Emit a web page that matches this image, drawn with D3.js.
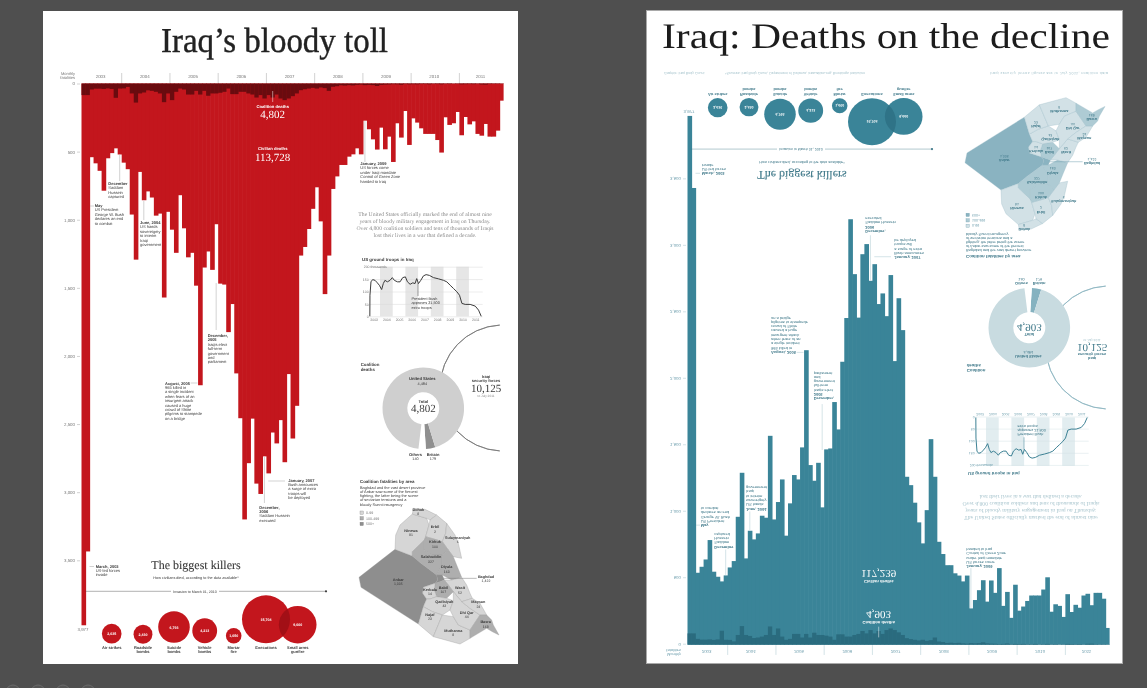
<!DOCTYPE html>
<html lang="en">
<head>
  <meta charset="UTF-8">
  <script src="https://d3js.org/d3.v7.min.js"></script>
  <style>
    html, body { margin: 0; padding: 0; background: #4f4f4f; overflow: hidden; }
    svg { display: block; filter: blur(0.35px); }
    text { font-family: "Liberation Sans", Arial, sans-serif; text-rendering: geometricPrecision; }
    .serif { font-family: "Liberation Serif", serif; }
  </style>
</head>
<body>
  <script>
    // monthly deaths, March 2003 to November 2011
    const civilian = [3977, 3435, 541, 586, 641, 787, 549, 511, 476, 521, 581, 629, 962, 1293, 649, 857, 792, 837,
      970, 955, 1571, 942, 1073, 1243, 820, 1063, 1276, 1243, 1484, 2215, 1351, 1233, 1368, 1033, 1469, 1476, 1825,
      1619, 2128, 2457, 3200, 2787, 2460, 2937, 3013, 2737, 2862, 2562, 2642, 2471, 2780, 2133, 2606, 2366, 1263,
      1200, 1068, 920, 762, 1012, 1546, 1263, 774, 682, 598, 598, 537, 520, 476, 520, 273, 336, 410, 485, 324, 483,
      390, 576, 292, 397, 202, 451, 256, 287, 329, 370, 370, 370, 415, 507, 248, 304, 292, 209, 380, 246, 300, 278,
      370, 383, 297, 390, 390, 346, 126];
    const coalition = [85, 85, 44, 38, 38, 40, 36, 40, 105, 37, 36, 25, 73, 140, 73, 66, 50, 54, 61, 73, 137, 73, 122,
      61, 37, 44, 81, 81, 54, 81, 54, 90, 73, 73, 68, 61, 37, 78, 78, 61, 61, 73, 81, 103, 85, 110, 85, 103, 81, 110,
      122, 110, 93, 73, 49, 42, 37, 32, 37, 29, 34, 54, 24, 20, 13, 15, 12, 14, 10, 8, 12, 10, 12, 18, 10, 8, 7, 5, 6,
      9, 4, 6, 5, 6, 4, 4, 6, 3, 4, 6, 3, 4, 2, 3, 6, 5, 4, 5, 3, 7, 8, 4, 3, 3, 2];
    const years = [2003, 2004, 2005, 2006, 2007, 2008, 2009, 2010, 2011];
    const yTicks = [0, 500, 1000, 1500, 2000, 2500, 3000, 3500];

    const killerNames = [["Air strikes"], ["Roadside", "bombs"], ["Suicide", "bombs"], ["Vehicle", "bombs"], ["Mortar", "fire"], ["Executions"], ["Small arms", "gunfire"]];
    const killerValues = [2635, 2430, 6793, 4213, 1650, 15704, 9660];

    const donutNames = ["Britain", "Others", "United States"];
    const donutValues = [179, 139, 4484];

    const troopYears = [2003.2, 2003.21, 2003.29, 2003.42, 2003.61, 2003.79, 2003.95, 2004.13, 2004.26, 2004.39, 2004.58, 2004.79,
      2004.97, 2005.13, 2005.37, 2005.58, 2005.79, 2006, 2006.16, 2006.37, 2006.58, 2006.76, 2006.89, 2007.03, 2007.21, 2007.42,
      2007.63, 2007.89, 2008.21, 2008.61, 2009, 2009.26, 2009.53, 2009.79, 2010.05, 2010.26, 2010.45, 2010.71, 2011.1, 2011.5, 2011.76, 2011.97];
    const troopValues = [0, 85, 139, 148, 145, 135, 125, 108, 132, 145, 139, 145, 156, 145, 139, 139, 156, 159, 139, 129, 135, 132,
      152, 132, 145, 163, 168, 165, 156, 151, 145, 139, 125, 112, 99, 85, 52, 48, 48, 41, 25, 0];
    const troopTicks = [0, 50, 100, 150, 200];

    const provinceNames = ["Anbar", "Ninewa", "Dohuk", "Erbil", "Sulaymaniyah", "Kirkuk", "Salahuddin", "Diyala", "Baghdad", "Wasit", "Babil", "Kerbala", "Qadisiyah", "Najaf", "Muthanna", "Dhi Qar", "Maysan", "Basra"];
    const provinceDeaths = [1335, 91, 8, 2, 6, 100, 327, 163, 1422, 52, 107, 14, 43, 23, 8, 44, 24, 168];
    // outlines in map units
    const provinceShapes = [
      [[12, 232], [120, 148], [172, 168], [198, 190], [245, 225], [248, 240], [240, 250], [205, 262], [203, 280], [215, 297], [205, 320], [190, 372], [18, 262]],
      [[120, 148], [122, 105], [135, 75], [172, 42], [215, 55], [222, 75], [212, 110], [208, 120], [172, 155], [172, 168]],
      [[172, 42], [175, 25], [210, 28], [245, 45], [225, 60], [215, 55]],
      [[245, 45], [275, 70], [272, 100], [262, 125], [240, 118], [212, 110], [222, 75], [225, 60]],
      [[275, 70], [300, 105], [310, 130], [320, 175], [295, 170], [280, 150], [262, 125], [272, 100]],
      [[212, 110], [240, 118], [262, 125], [280, 150], [262, 165], [230, 165], [208, 150], [208, 120]],
      [[172, 155], [208, 120], [208, 150], [230, 165], [262, 165], [262, 195], [250, 215], [245, 225], [198, 190], [172, 168]],
      [[262, 165], [280, 150], [295, 170], [305, 195], [320, 232], [290, 240], [262, 225], [245, 225], [250, 215], [262, 195]],
      [[245, 225], [262, 225], [268, 240], [255, 245], [240, 250], [248, 240]],
      [[268, 240], [290, 240], [320, 232], [335, 255], [345, 280], [352, 295], [320, 305], [295, 275], [280, 255]],
      [[240, 250], [255, 245], [268, 240], [280, 255], [295, 275], [275, 295], [245, 290], [238, 270]],
      [[205, 262], [240, 250], [238, 270], [245, 290], [225, 297], [215, 297], [203, 280]],
      [[215, 297], [225, 297], [245, 290], [275, 295], [295, 302], [285, 330], [262, 345], [232, 335], [205, 320]],
      [[205, 320], [232, 335], [262, 345], [235, 410], [190, 372]],
      [[262, 345], [295, 350], [310, 375], [345, 390], [345, 415], [315, 432], [235, 410]],
      [[295, 302], [295, 275], [320, 305], [345, 325], [375, 345], [345, 390], [310, 375], [295, 350], [285, 330]],
      [[352, 295], [375, 310], [395, 345], [375, 345], [345, 325], [320, 305]],
      [[375, 345], [395, 345], [410, 360], [415, 375], [432, 405], [412, 395], [395, 385], [345, 415], [345, 390]]
    ];
    const provinceLabelAt = [[130, 242], [168, 96], [190, 32], [240, 85], [308, 117], [240, 130], [228, 175], [275, 205], [393, 233], [315, 268], [265, 267], [225, 272], [268, 308], [225, 347], [295, 395], [335, 342], [370, 310], [392, 370]];

    const redPalette = {
      bar: "#c3161d", dark: "#6a0b0f", lens: "#a20f16", ink: "#3a3a3a", soft: "#777", muted: "#8c8c8c",
      leader: "#a5a5a5", tints: ["#d6d6d6", "#aeaeae", "#8e8e8e"], ring: "#cfcfcf", wedge: "#8f8f8f",
      grid: "#d9d9d9", band: "#e6e6e6", line: "#3c3c3c", arc: "#777", seam: "#9d9d9d"
    };
    const tealPalette = {
      bar: "#3a8498", dark: "#2a6b7e", lens: "#2f7387", ink: "#3d7788", soft: "#6f9fae", muted: "#a5c3cc",
      leader: "#a8c6ce", tints: ["#d2e1e6", "#aecbd4", "#8ab3c1"], ring: "#c8dbe0", wedge: "#85b2c0",
      grid: "#d4e3e7", band: "#e2edf0", line: "#3a7f92", arc: "#8db5c1", seam: "#9bbdc8"
    };

    const width = 1147, height = 688;
    const svg = d3.select("body").append("svg").attr("width", width).attr("height", height);

    // viewer buttons peeking in at the bottom edge
    svg.selectAll(".btn").data([13, 38, 63, 88]).join("circle").attr("class", "btn")
      .attr("cx", d => d).attr("cy", 692).attr("r", 7)
      .attr("fill", "#555").attr("stroke", "#6a6a6a");

    svg.append("rect").attr("x", 43).attr("y", 11).attr("width", 475).attr("height", 653).attr("fill", "#fff");
    svg.append("rect").attr("x", 646.5).attr("y", 10.5).attr("width", 476).attr("height", 653).attr("fill", "#fff").attr("stroke", "#a9a9a9");

    svg.append("text").attr("class", "serif").attr("x", 161).attr("y", 52).attr("font-size", 35)
      .attr("fill", "#222").attr("stroke", "#222").attr("stroke-width", 0.4)
      .attr("textLength", 227).attr("lengthAdjust", "spacingAndGlyphs").text("Iraq\u2019s bloody toll");
    svg.append("text").attr("class", "serif").attr("x", 662).attr("y", 48).attr("font-size", 36)
      .attr("fill", "#1c1c1c").attr("textLength", 448).attr("lengthAdjust", "spacingAndGlyphs").text("Iraq: Deaths on the decline");

    const left = svg.append("g");
    drawPoster(left, redPalette, "red", "113,728", "4,802");

    // the right hand version is the same poster turned upside down
    const right = svg.append("g").attr("transform", "translate(606,644.7) scale(1,-0.976) translate(0,-83.5)");
    drawPoster(right, tealPalette, "teal", "117,239", "4,903");
    right.append("text").attr("x", 58).attr("y", 670).attr("font-size", 3.6).attr("fill", tealPalette.muted)
      .text("Graphic: Iraq Body Count");
    right.append("text").attr("x", 119).attr("y", 670).attr("font-size", 3.6).attr("fill", tealPalette.muted)
      .attr("textLength", 140).text("*Sources: Iraq Body Count, Department of Defense, icasualties.org, Brookings Institution");
    right.append("text").attr("x", 384).attr("y", 670).attr("font-size", 3.6).attr("fill", tealPalette.muted)
      .attr("textLength", 118).text("Iraqi security forces figures are to July 2011, coalition data");

    function note(g, x, y, lines, pal, boldLines) {
      const t = g.append("g").attr("font-size", 4).attr("fill", pal.ink);
      lines.forEach((s, i) => {
        t.append("text").attr("x", x).attr("y", y + i * 4.4).attr("font-weight", i < boldLines ? "bold" : "normal").text(s);
      });
    }

    function drawPoster(g, pal, id, civTotal, coaTotal) {
      const x = d3.scaleBand().domain(d3.range(civilian.length)).range([81.5, 503.6]);
      const y = d3.scaleLinear().domain([0, 3500]).range([83.5, 560.3]);

      // bars overlap a touch so no seams show between months
      g.append("g").selectAll("rect").data(civilian).join("rect")
        .attr("x", (d, i) => x(i)).attr("y", y(0))
        .attr("width", (d, i) => x.bandwidth() + (i < civilian.length - 1 ? 0.6 : 0)).attr("height", d => y(d) - y(0)).attr("fill", pal.bar);
      g.append("g").selectAll("rect").data(coalition).join("rect")
        .attr("x", (d, i) => x(i)).attr("y", y(0))
        .attr("width", x.bandwidth() + 0.3).attr("height", d => y(d) - y(0)).attr("fill", pal.dark);

      const axis = g.append("g").attr("transform", "translate(80,0)")
        .call(d3.axisLeft(y).tickValues(yTicks).tickSize(3).tickPadding(2).tickFormat(d3.format(",")));
      axis.select(".domain").remove();
      axis.selectAll("line").attr("stroke", pal.leader).attr("stroke-width", 0.5);
      axis.selectAll("text").attr("font-size", 4.4).attr("fill", pal.soft).attr("font-family", "Liberation Sans");
      g.append("text").attr("x", 75).attr("y", 75).attr("text-anchor", "end").attr("font-size", 4).attr("fill", pal.soft).text("Monthly");
      g.append("text").attr("x", 75).attr("y", 79).attr("text-anchor", "end").attr("font-size", 4).attr("fill", pal.soft).text("fatalities");

      // year strip above the bars
      years.forEach((yr, k) => {
        const first = k === 0 ? 0 : 10 + (k - 1) * 12;
        const last = Math.min(9 + k * 12, civilian.length - 1);
        g.append("text").attr("x", (x(first) + x(last)) / 2 + 1).attr("y", 78).attr("text-anchor", "middle")
          .attr("font-size", 4.4).attr("fill", pal.soft).text(yr);
        if (k > 0) {
          g.append("line").attr("x1", x(first)).attr("x2", x(first)).attr("y1", 73).attr("y2", 83)
            .attr("stroke", pal.leader).attr("stroke-width", 0.5);
        }
      });

      // totals on the bars
      const cx = 272.7;
      g.append("line").attr("x1", cx).attr("x2", cx).attr("y1", 91).attr("y2", 102).attr("stroke", "#fff").attr("stroke-width", 0.5);
      const white = (s, yy, size, serif) => g.append("text").attr("class", serif ? "serif" : null).attr("x", cx).attr("y", yy)
        .attr("text-anchor", "middle").attr("font-size", size).attr("font-weight", serif ? "normal" : "bold").attr("fill", "#fff").text(s);
      white("Coalition deaths", 107.5, 4.2);
      white(coaTotal, 118, 11, true);
      white("Civilian deaths", 150, 4.2);
      white(civTotal, 160.5, 11, true);

      // leaders from the marked months
      const leaders = [[9, 155, 181], [15, 201, 220], [33, 283, 330], [45, 457, 503], [70, 121, 162]];
      leaders.forEach(l => {
        const lx = x(l[0]) + x.bandwidth() / 2;
        g.append("line").attr("x1", lx).attr("x2", lx).attr("y1", l[1]).attr("y2", l[2]).attr("stroke", pal.leader).attr("stroke-width", 0.5);
      });
      [[90, 94, 206], [190.7, 197.5, 383], [268.3, 285, 481], [89.5, 94, 566.5]].forEach(l => {
        g.append("line").attr("x1", l[0]).attr("x2", l[1]).attr("y1", l[2]).attr("y2", l[2]).attr("stroke", pal.leader).attr("stroke-width", 0.5);
      });

      note(g, 108.3, 185, ["December", "Saddam", "Hussein", "captured"], pal, 1);
      note(g, 94.7, 207, ["May", "US President", "George W. Bush", "declares an end", "to combat"], pal, 1);
      note(g, 140, 224, ["June, 2004", "US hands", "sovereignty", "to interim", "Iraqi", "government"], pal, 1);
      note(g, 165, 384.5, ["August, 2005", "965 killed in", "a single incident", "when fears of an", "insurgent attack", "caused a huge", "crowd of Shiite", "pilgrims to stampede", "on a bridge"], pal, 1);
      note(g, 207.7, 337, ["December,", "2005", "Iraqis elect", "full-term", "government", "and", "parliament"], pal, 2);
      note(g, 288.3, 481.5, ["January, 2007", "Bush announces", "a surge of extra", "troops will", "be deployed"], pal, 1);
      note(g, 259.3, 508.5, ["December,", "2006", "Saddam Hussein", "executed"], pal, 2);
      note(g, 360.3, 165, ["January, 2009", "US forces come", "under Iraqi mandate", "Control of Green Zone", "handed to Iraq"], pal, 1);
      note(g, 95.7, 567.5, ["March, 2003", "US-led forces", "invade"], pal, 1);
      g.append("text").attr("x", 83).attr("y", 631).attr("text-anchor", "middle").attr("font-size", 4.4).attr("fill", pal.soft).text("3,977");

      drawIntro(g, pal);
      drawTroops(g, pal);
      drawDonut(g, pal, coaTotal);
      drawMap(g, pal);
      drawKillers(g, pal, id);
    }

    function drawIntro(g, pal) {
      ["The United States officially marked the end of almost nine",
        "years of bloody military engagement in Iraq on Thursday.",
        "Over 4,800 coalition soldiers and tens of thousands of Iraqis",
        "lost their lives in a war that defined a decade."].forEach((s, i) => {
        g.append("text").attr("class", "serif").attr("x", 425).attr("y", 215.5 + i * 7.1).attr("text-anchor", "middle")
          .attr("font-size", 5.7).attr("fill", pal.muted).text(s);
      });
    }

    function drawTroops(g, pal) {
      const tx = d3.scaleLinear().domain([2003, 2012]).range([367.3, 481.6]);
      const ty = d3.scaleLinear().domain([0, 200]).range([316.3, 266.7]);
      [2004, 2006, 2008, 2010].forEach(yr => {
        g.append("rect").attr("x", tx(yr)).attr("y", ty(200)).attr("width", tx(yr + 1) - tx(yr)).attr("height", ty(0) - ty(200)).attr("fill", pal.band);
      });
      g.append("text").attr("x", 362).attr("y", 260.5).attr("font-size", 4.4).attr("font-weight", "bold").attr("fill", pal.ink).text("US ground troops in Iraq");

      const axis = g.append("g").attr("transform", "translate(482.7,0)")
        .call(d3.axisLeft(ty).tickValues(troopTicks).tickSize(113).tickPadding(1).tickFormat(d => d === 200 ? "200 thousands" : d));
      axis.select(".domain").remove();
      axis.selectAll("line").attr("stroke", pal.grid).attr("stroke-width", 0.5);
      axis.selectAll("text").attr("font-size", 3.5).attr("fill", pal.soft).attr("font-family", "Liberation Sans");
      axis.selectAll(".tick").filter(d => d === 200).select("text").attr("text-anchor", "start").attr("x", -119);

      const xa = g.append("g").attr("transform", `translate(0,${ty(0)})`)
        .call(d3.axisBottom(tx).tickValues(years.map(d => d + 0.5)).tickSize(0).tickPadding(2.5).tickFormat(d => Math.floor(d)));
      xa.select(".domain").remove();
      xa.selectAll("text").attr("font-size", 3.5).attr("fill", pal.soft).attr("font-family", "Liberation Sans");

      g.append("path").datum(d3.zip(troopYears, troopValues))
        .attr("d", d3.line().x(d => tx(d[0])).y(d => ty(d[1])))
        .attr("fill", "none").attr("stroke", pal.line).attr("stroke-width", 1);
      g.append("line").attr("x1", 418).attr("x2", 418).attr("y1", 283).attr("y2", 296).attr("stroke", pal.line).attr("stroke-width", 0.5);
      ["President Bush", "approves 21,500", "extra troops"].forEach((s, i) => {
        g.append("text").attr("x", 411.5).attr("y", 300 + i * 4.3).attr("font-size", 3.8).attr("fill", pal.ink).text(s);
      });
    }

    function drawDonut(g, pal, coaTotal) {
      const cx = 423.3, cy = 408.3;
      const bigArc = d3.arc().innerRadius(63).outerRadius(63).startAngle(183 * Math.PI / 180).endAngle(357 * Math.PI / 180);
      g.append("path").attr("transform", "translate(503,388)").attr("d", bigArc())
        .attr("fill", "none").attr("stroke", pal.arc).attr("stroke-width", 0.8);

      const pie = d3.pie().sort(null).startAngle(163 * Math.PI / 180).endAngle(523 * Math.PI / 180);
      const arc = d3.arc().innerRadius(16).outerRadius(40.8);
      g.append("g").attr("transform", `translate(${cx},${cy})`).selectAll("path").data(pie(donutValues)).join("path")
        .attr("d", arc).attr("fill", (d, i) => [pal.wedge, "#fff", pal.ring][i]);

      const lab = (s, xx, yy, size, bold, color) => g.append("text").attr("x", xx).attr("y", yy).attr("text-anchor", "middle")
        .attr("font-size", size).attr("font-weight", bold ? "bold" : "normal").attr("fill", color || pal.ink).text(s);
      lab("United States", cx - 1, 380, 4.2, true);
      lab(d3.format(",")(donutValues[2]), cx - 1, 384.5, 3.8, false);
      lab("Total", cx, 402.5, 4.2, true);
      g.append("text").attr("class", "serif").attr("x", cx).attr("y", 412).attr("text-anchor", "middle").attr("font-size", 11).attr("fill", pal.ink).text(coaTotal);
      lab("Others", 415.5, 455.5, 4, true);
      lab("140", 415.5, 459.7, 3.8, false);
      lab("Britain", 433, 455.5, 4, true);
      lab(d3.format(",")(donutValues[0]), 433, 459.7, 3.8, false);
      g.append("text").attr("x", 360.7).attr("y", 366).attr("font-size", 4.4).attr("font-weight", "bold").attr("fill", pal.ink).text("Coalition");
      g.append("text").attr("x", 360.7).attr("y", 371).attr("font-size", 4.4).attr("font-weight", "bold").attr("fill", pal.ink).text("deaths");
      lab("Iraqi", 486, 378, 4, true);
      lab("security forces", 486, 382.3, 4, true);
      g.append("text").attr("class", "serif").attr("x", 486).attr("y", 392).attr("text-anchor", "middle").attr("font-size", 11).attr("fill", pal.ink).text("10,125");
      lab("to July 2011", 486, 397, 3.2, false, pal.muted);
    }

    function drawMap(g, pal) {
      const mx = d3.scaleLinear().domain([0, 450]).range([355, 505]);
      const my = d3.scaleLinear().domain([0, 465]).range([500, 655]);
      const shape = d3.line().x(d => mx(d[0])).y(d => my(d[1])).curve(d3.curveLinearClosed);
      const tint = d3.scaleThreshold().domain([100, 500]).range(pal.tints);

      g.append("text").attr("x", 360).attr("y", 483).attr("font-size", 4.4).attr("font-weight", "bold").attr("fill", pal.ink).text("Coalition fatalities by area");
      ["Baghdad and the vast desert province", "of Anbar saw some of the fiercest", "fighting, the latter being the scene", "of sectarian tensions and a", "bloody Sunni insurgency"].forEach((s, i) => {
        g.append("text").attr("x", 360).attr("y", 488.5 + i * 4.3).attr("font-size", 3.9).attr("fill", pal.ink).text(s);
      });
      [["0-99", 50], ["100-499", 200], ["500+", 900]].forEach((l, i) => {
        const ly = 512.7 + i * 5.6;
        g.append("rect").attr("x", 360).attr("y", ly - 1.7).attr("width", 3.4).attr("height", 3.4).attr("fill", tint(l[1])).attr("stroke", pal.soft).attr("stroke-width", 0.3);
        g.append("text").attr("x", 366).attr("y", ly + 1.4).attr("font-size", 3.6).attr("fill", pal.soft).text(l[0]);
      });

      g.append("g").selectAll("path").data(provinceShapes).join("path")
        .attr("d", shape).attr("fill", (d, i) => tint(provinceDeaths[i]))
        .attr("stroke", pal.seam).attr("stroke-width", 0.35);

      g.append("line").attr("x1", mx(265)).attr("x2", mx(365)).attr("y1", my(235)).attr("y2", my(235)).attr("stroke", pal.soft).attr("stroke-width", 0.5);
      provinceNames.forEach((name, i) => {
        const at = provinceLabelAt[i];
        g.append("text").attr("x", mx(at[0])).attr("y", my(at[1])).attr("text-anchor", "middle")
          .attr("font-size", 3.8).attr("font-weight", "bold").attr("fill", pal.ink).text(name);
        g.append("text").attr("x", mx(at[0])).attr("y", my(at[1]) + 4.3).attr("text-anchor", "middle")
          .attr("font-size", 3.5).attr("fill", pal.ink).text(d3.format(",")(provinceDeaths[i]));
      });
    }

    function drawKillers(g, pal, id) {
      const centres = [[111.7, 633.7], [143, 634.3], [174, 627], [204.7, 630.7], [233.7, 635.7], [266, 619.3], [297.7, 624.7]];
      const r = d3.scaleSqrt().domain([0, d3.max(killerValues)]).range([0, 24]);

      g.append("text").attr("class", "serif").attr("x", 196).attr("y", 569).attr("text-anchor", "middle")
        .attr("font-size", 12).attr("fill", pal.ink).attr("stroke", pal.ink).attr("stroke-width", 0.1).text("The biggest killers");
      g.append("text").attr("x", 196).attr("y", 578.8).attr("text-anchor", "middle").attr("font-size", 3.8)
        .attr("fill", pal.ink).text("How civilians died, according to the data available*");

      g.append("line").attr("x1", 85.7).attr("x2", 326).attr("y1", 591.3).attr("y2", 591.3).attr("stroke", pal.ink).attr("stroke-width", 0.4);
      g.append("circle").attr("cx", 326).attr("cy", 591.3).attr("r", 1.1).attr("fill", pal.ink);
      g.append("rect").attr("x", 171).attr("y", 588).attr("width", 48).attr("height", 6).attr("fill", "#fff");
      g.append("text").attr("x", 195).attr("y", 592.6).attr("text-anchor", "middle").attr("font-size", 3.6).attr("fill", pal.ink).text("Invasion to March 31, 2010");

      g.append("g").selectAll("circle").data(killerValues).join("circle")
        .attr("cx", (d, i) => centres[i][0]).attr("cy", (d, i) => centres[i][1]).attr("r", d => r(d)).attr("fill", pal.bar);

      // darker lens where the two big circles overlap
      g.append("clipPath").attr("id", "lens-" + id).append("circle")
        .attr("cx", centres[6][0]).attr("cy", centres[6][1]).attr("r", r(killerValues[6]));
      g.append("circle").attr("cx", centres[5][0]).attr("cy", centres[5][1]).attr("r", r(killerValues[5]))
        .attr("fill", pal.lens).attr("clip-path", `url(#lens-${id})`);

      killerValues.forEach((v, i) => {
        g.append("text").attr("x", centres[i][0]).attr("y", centres[i][1] + 1.5).attr("text-anchor", "middle")
          .attr("font-size", 3.6).attr("font-weight", "bold").attr("fill", "#fff").text(d3.format(",")(v));
        killerNames[i].forEach((s, k) => {
          g.append("text").attr("x", centres[i][0]).attr("y", 649 + k * 4.4).attr("text-anchor", "middle")
            .attr("font-size", 4).attr("font-weight", "bold").attr("fill", pal.ink).text(s);
        });
      });
    }
  </script>
</body>
</html>
